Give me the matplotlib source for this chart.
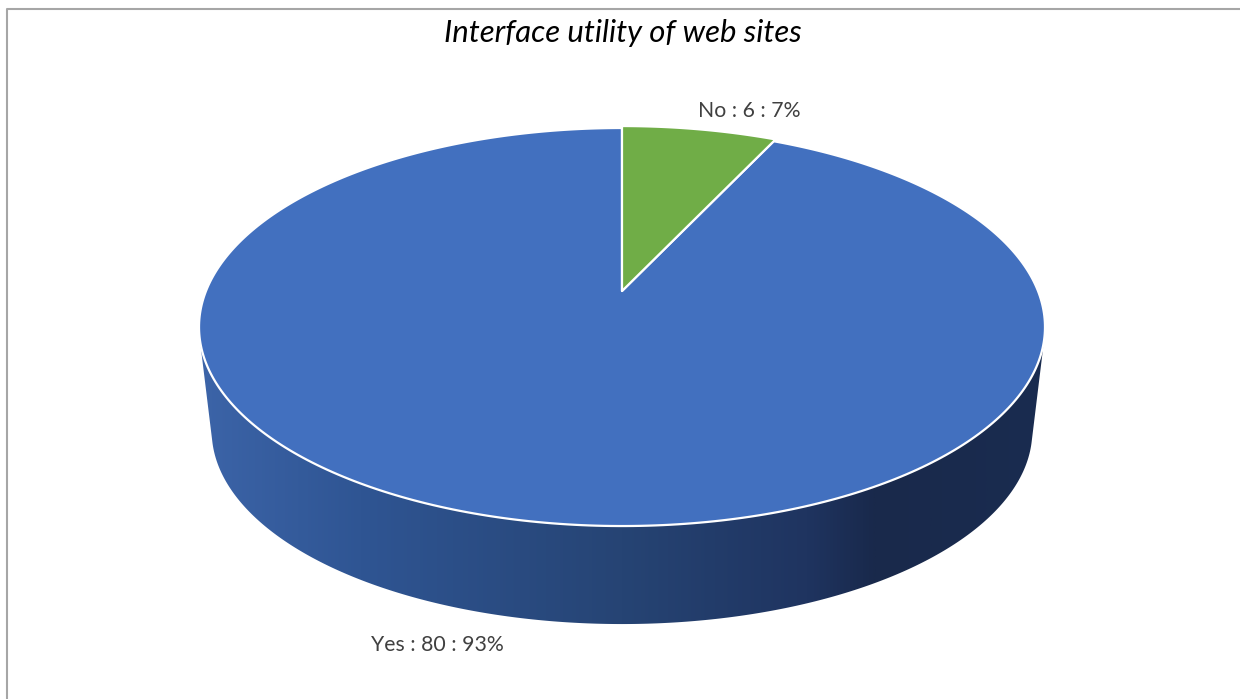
import matplotlib
matplotlib.use("Agg")
import matplotlib.pyplot as plt
import numpy as np
from matplotlib.colors import LinearSegmentedColormap
from matplotlib.patches import Polygon

# data
categories = ["Yes", "No"]
values = [80, 6]
colors = ["#4270BF", "#70AD47"]
title = "Interface utility of web sites"

W, H = 1240, 699

# projection of the pie disc, in pixels
CX, CY = 622, 291
A, K, P = 416, 192.5, 0.181
# the lower rim is the top rim pulled towards a vanishing point
VY, SHRINK = 3793, 0.97
# the small slice stands a little proud of the disc
NO_PULL = 1.012


def project(angle):
    """angle is clockwise from the top of the disc"""
    u, v = np.sin(angle), np.cos(angle)
    d = 1 + P * v
    return np.column_stack([CX + A * u / d, CY - K * v / d])


def lower(pts):
    return np.column_stack([CX + SHRINK * (pts[:, 0] - CX), VY + SHRINK * (pts[:, 1] - VY)])


def hull(pts):
    pts = sorted(map(tuple, pts))

    def half(seq):
        out = []
        for p in seq:
            while len(out) > 1:
                a, b = np.subtract(out[-1], out[-2]), np.subtract(p, out[-1])
                if a[0] * b[1] - a[1] * b[0] > 0:
                    break
                out.pop()
            out.append(p)
        return out[:-1]

    return np.array(half(pts) + half(pts[::-1]))


fig = plt.figure(figsize=(W / 100, H / 100), dpi=100)
ax = fig.add_axes([0, 0, 1, 1])
ax.set_xlim(0, W)
ax.set_ylim(H, 0)
ax.axis("off")

# frame
ax.plot([7, 7, W], [H, 9, 9], color="#A6A6A6", lw=1.5, zorder=1)

# side wall with its left to right shading
t = np.linspace(0, 2 * np.pi, 721)
rim = project(t)
wall = hull(np.vstack([rim, lower(rim)]))
wall_cmap = LinearSegmentedColormap.from_list(
    "wall",
    [(0, "#3C64A8"), (0.19, "#2F5593"), (0.5, "#264474"), (0.72, "#1F3460"), (0.8, "#19294B"), (1, "#1A2C50")],
)
img = ax.imshow(
    np.linspace(0, 1, 512).reshape(1, -1), cmap=wall_cmap, aspect="auto",
    extent=[199, 1045, 640, 320], zorder=2,
)
ax.set_xlim(0, W)
ax.set_ylim(H, 0)
clip = Polygon(wall, closed=True, transform=ax.transData, fill=False, edgecolor="none")
ax.add_patch(clip)
img.set_clip_path(clip)

# top face, slices run clockwise from 12 o'clock, smallest first
total = sum(values)
start = 0.0
centre = np.array([[CX, CY]])
for i in [1, 0]:
    sweep = 2 * np.pi * values[i] / total
    arc = project(np.linspace(start, start + sweep, 400))
    if i == 1:
        arc = centre + (arc - centre) * NO_PULL
    ax.add_patch(Polygon(np.vstack([centre, arc]), closed=True, facecolor=colors[i],
                         edgecolor="white", lw=1.6, joinstyle="round", zorder=3 + (i == 1)))
    start += sweep

# labels
label_pos = {"Yes": (437.5, 645), "No": (749.5, 111)}
for cat, val in zip(categories, values):
    text = f"{cat} : {val} : {round(100 * val / total)}%"
    ax.text(*label_pos[cat], text, ha="center", va="center", fontsize=15.3,
            family="Lato", color="#404040", zorder=5)

ax.text(623, 33, title, ha="center", va="center", fontsize=22.4, style="italic",
        family="Lato", color="black", zorder=5)

fig.savefig("out.png", dpi=100, facecolor="white")
plt.close(fig)
